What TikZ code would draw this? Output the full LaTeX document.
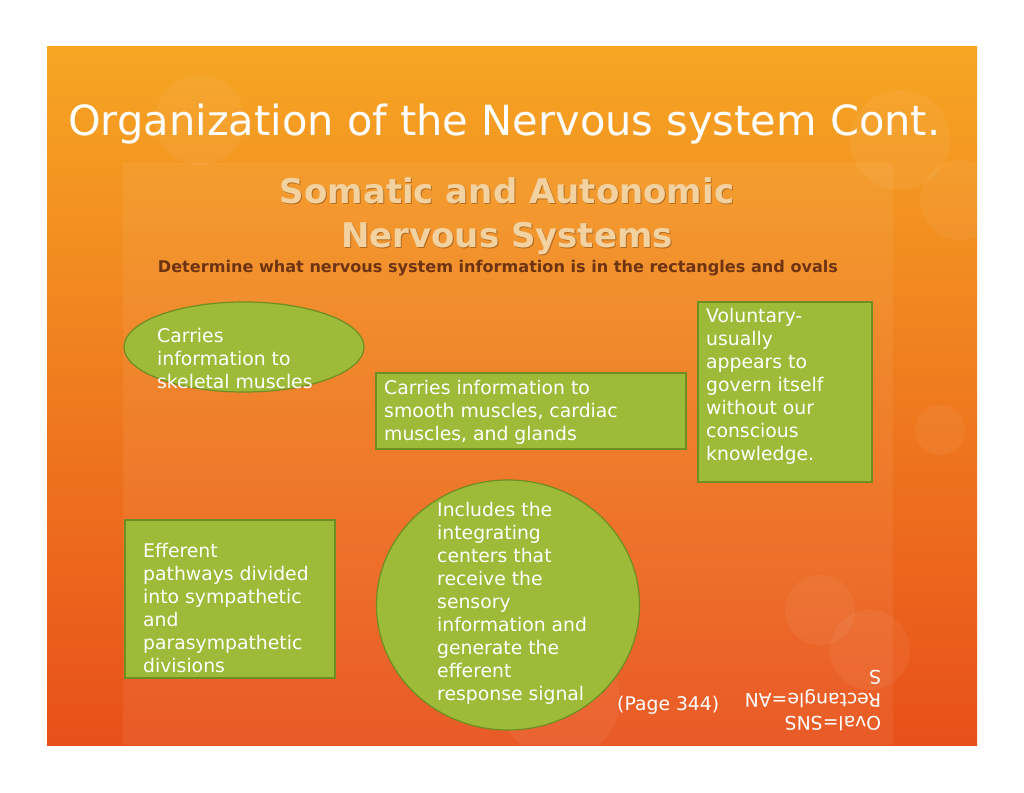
\documentclass[tikz,border=0pt]{standalone}
\usepackage{fontspec}
\setmainfont{DejaVu Sans}
\usetikzlibrary{shapes.geometric,shadows}
\definecolor{gfill}{HTML}{9DBA38}
\definecolor{gline}{HTML}{6F8E22}
\definecolor{otop}{HTML}{F6A623}
\definecolor{obot}{HTML}{E8501A}
\definecolor{subt}{HTML}{F2D2A0}
\definecolor{detc}{HTML}{6E3412}
\begin{document}
\begin{tikzpicture}[x=1pt,y=-1pt,
  box/.style={draw=gline,line width=1.2pt,fill=gfill},
  txt/.style={text=white,font=\fontsize{18.8}{23}\selectfont,align=left,anchor=north west,inner sep=0pt}]
\useasboundingbox (0,0) rectangle (1024,792);
\fill[white] (0,0) rectangle (1024,792);
\shade[top color=otop,bottom color=obot] (47,47) rectangle (977,745);
\fill[white,opacity=0.06] (123,163) rectangle (893,745);
\foreach \x/\y/\r in {900/140/50,960/200/40,820/610/35,870/650/40,940/430/25,200/120/45,560/700/60}
  \fill[white,opacity=0.05] (\x,\y) circle (\r);
\node[anchor=base west,text=white,inner sep=0pt] (title) at (68,135)
  {\resizebox{872pt}{!}{Organization of the Nervous system Cont.}};
\node[text=detc!60!black,opacity=0.35,font=\bfseries\fontsize{34}{44}\selectfont,align=center,anchor=center] at (508,217) {Somatic and Autonomic\\Nervous Systems};
\node[text=subt,font=\bfseries\fontsize{34}{44}\selectfont,align=center,anchor=center] (sub) at (507,216) {Somatic and Autonomic\\Nervous Systems};
\node[text=detc,inner sep=0pt,anchor=center] (det) at (498,268) {\resizebox{680pt}{!}{\bfseries Determine what nervous system information is in the rectangles and ovals}};
% shapes
\node[box,ellipse,minimum width=240pt,minimum height=90pt] (ov) at (244,347) {};
\node[txt] (ovt) at (157,328) {Carries\\information to\\skeletal muscles};
\node[box,rectangle,minimum width=310pt,minimum height=76pt] (r1) at (531,411) {};
\node[txt] (r1t) at (384,380) {Carries information to\\smooth muscles, cardiac\\muscles, and glands};
\node[box,rectangle,minimum width=174pt,minimum height=180pt] (r2) at (785,392) {};
\node[txt] (r2t) at (706,308) {Voluntary-\\usually\\appears to\\govern itself\\without our\\conscious\\knowledge.};
\node[box,rectangle,minimum width=210pt,minimum height=158pt] (r3) at (230,599) {};
\node[txt] (r3t) at (143,543) {Efferent\\pathways divided\\into sympathetic\\and\\parasympathetic\\divisions};
\node[box,ellipse,minimum width=263pt,minimum height=250pt] (ci) at (508,605) {};
\node[txt] (cit) at (437,502) {Includes the\\integrating\\centers that\\receive the\\sensory\\information and\\generate the\\efferent\\response signal};
\node[txt] (pg) at (617,696) {(Page 344)};
\node[txt,anchor=center,rotate=180,transform shape] (flip) at (813,700) {Oval=SNS\\Rectangle=AN\\S};
\end{tikzpicture}
\end{document}
